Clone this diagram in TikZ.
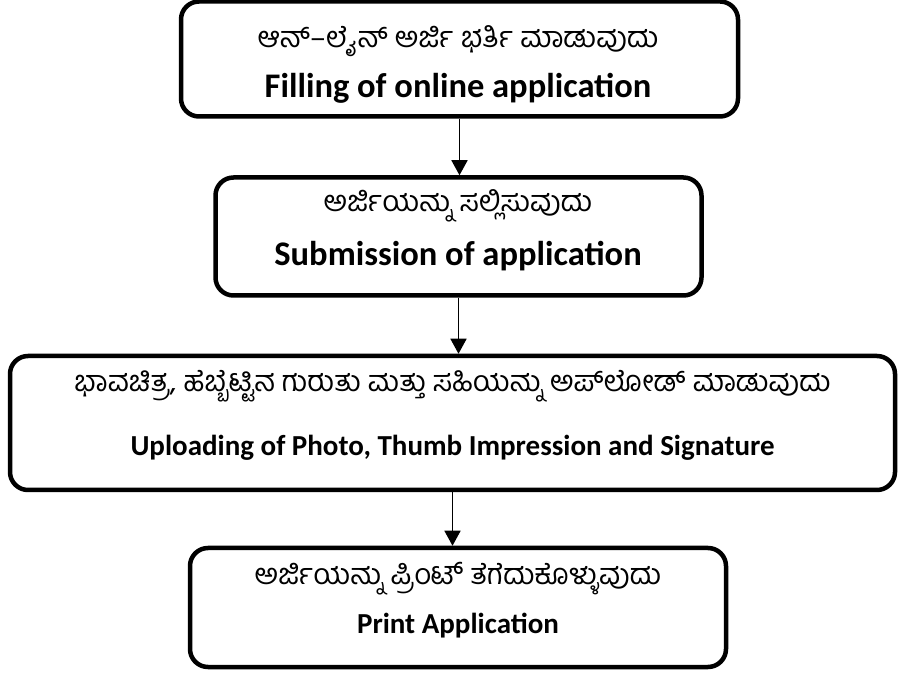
\documentclass[tikz,border=0pt]{standalone}
\usepackage{fontspec}
\setmainfont{Carlito}
\newfontfamily\kanfont[Script=Kannada]{Hind Mysuru}
\usetikzlibrary{arrows.meta}
\tikzset{
  stepbox/.style={
    draw,
    rectangle,
    rounded corners=18pt,
    line width=4.5pt,
    inner sep=0pt
  },
  kntext/.style={anchor=base,inner sep=0pt,font=\kanfont\fontsize{29}{34}\selectfont},
  entext/.style={anchor=base,inner sep=0pt,font=\bfseries\fontsize{#1}{36}\selectfont},
  entext/.default=29,
  flow/.style={line width=1.6pt,-{Triangle[width=16pt,length=15pt]}},
}

\begin{document}
\begin{tikzpicture}[x=1pt,y=1pt]
  \useasboundingbox (0,0) rectangle (901,674);

  % boxes
  \node[stepbox,minimum width=557pt,minimum height=115pt] (fill) at (459.5,615) {};
  \node[stepbox,minimum width=486pt,minimum height=118pt] (submit) at (458.5,437.5) {};
  \node[stepbox,minimum width=885pt,minimum height=134pt] (upload) at (452.5,251) {};
  \node[stepbox,minimum width=536pt,minimum height=119pt] (print) at (458,66.5) {};

  % texts
  \node[kntext] (fillkn) at (458,626) {ಆನ್–ಲೈನ್ ಅರ್ಜಿ ಭರ್ತಿ ಮಾಡುವುದು};
  \node[entext=34.5] (fillen) at (458,576) {Filling of online application};
  \node[kntext] (submitkn) at (458,462) {ಅರ್ಜಿಯನ್ನು ಸಲ್ಲಿಸುವುದು};
  \node[entext=34.5] (submiten) at (458,408) {Submission of application};
  \node[kntext] (uploadkn) at (452.5,282) {ಭಾವಚಿತ್ರ, ಹೆಬ್ಬೆಟ್ಟಿನ ಗುರುತು ಮತ್ತು ಸಹಿಯನ್ನು ಅಪ್‌ಲೋಡ್ ಮಾಡುವುದು};
  \node[entext] (uploaden) at (452.5,218) {Uploading of Photo, Thumb Impression and Signature};
  \node[kntext] (printkn) at (458,89) {ಅರ್ಜಿಯನ್ನು ಪ್ರಿಂಟ್ ತೆಗೆದುಕೊಳ್ಳುವುದು};
  \node[entext] (printen) at (458,41) {Print Application};

  \foreach \a/\b in {fill/submit,submit/upload,upload/print}
    \draw[flow] (\a.south) -- (\a.south |- \b.north);
\end{tikzpicture}
\end{document}
